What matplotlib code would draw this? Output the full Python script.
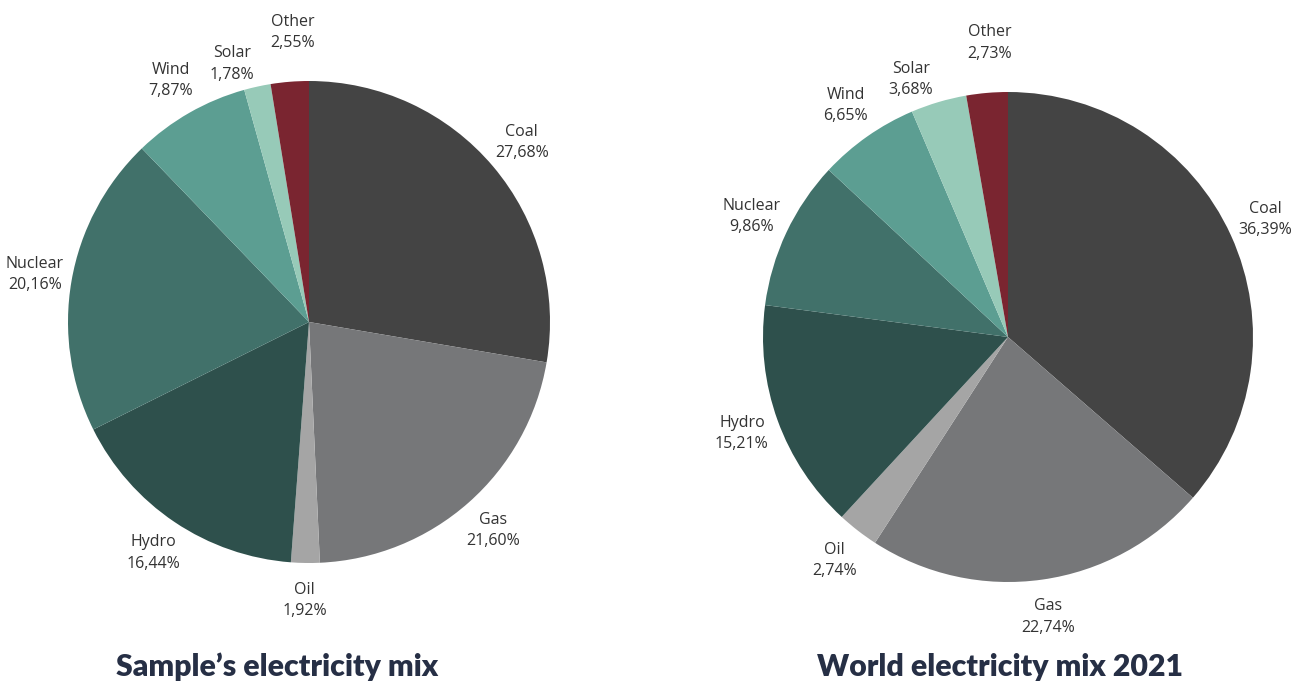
import matplotlib
matplotlib.use("Agg")
import matplotlib.pyplot as plt

# Electricity mix shares (%), listed clockwise from 12 o'clock
sources = ["Coal", "Gas", "Oil", "Hydro", "Nuclear", "Wind", "Solar", "Other"]
sample_share = [27.68, 21.60, 1.92, 16.44, 20.16, 7.87, 1.78, 2.55]
world_share = [36.39, 22.74, 2.74, 15.21, 9.86, 6.65, 3.68, 2.73]
titles = ["Sample\u2019s electricity mix", "World electricity mix 2021"]

colors = ["#444444", "#767779", "#a5a5a5", "#2e504c",
          "#41716a", "#5c9e92", "#97cab8", "#7a2530"]

W, H = 1303, 684
fig = plt.figure(figsize=(W / 100, H / 100), dpi=100)
ax = fig.add_axes([0, 0, 1, 1])

# small nudges (px) that keep the thin-slice labels apart
nudges = {"Solar": (-17, -14), "Other": (6, 12)}

pies = [
    dict(values=sample_share, center=(309, H - 322), radius=241, title_x=277),
    dict(values=world_share, center=(1008, H - 337), radius=245, title_x=1000),
]


def fmt(v):
    return f"{v:.2f}".replace(".", ",") + "%"


for spec, title in zip(pies, titles):
    labels = [f"{s}\n{fmt(v)}" for s, v in zip(sources, spec["values"])]
    wedges, texts = ax.pie(
        spec["values"], labels=labels, colors=colors, startangle=90,
        counterclock=False, center=spec["center"], radius=spec["radius"],
        labeldistance=1.155, wedgeprops=dict(linewidth=0),
        textprops=dict(fontsize=11.5, color="#333333", family="Open Sans",
                       linespacing=1.45),
    )
    for name, t in zip(sources, texts):
        t.set_ha("center")
        t.set_va("center")
        if name in nudges:
            x, y = t.get_position()
            dx, dy = nudges[name]
            t.set_position((x + dx, y + dy))
    ax.text(spec["title_x"], 8, title, ha="center", va="baseline",
            fontsize=21.8, fontweight="heavy", family="Lato", color="#262f45")

ax.set_xlim(0, W)
ax.set_ylim(0, H)
ax.set_aspect("equal")
ax.axis("off")

fig.savefig("out.png", dpi=100, facecolor="white")
